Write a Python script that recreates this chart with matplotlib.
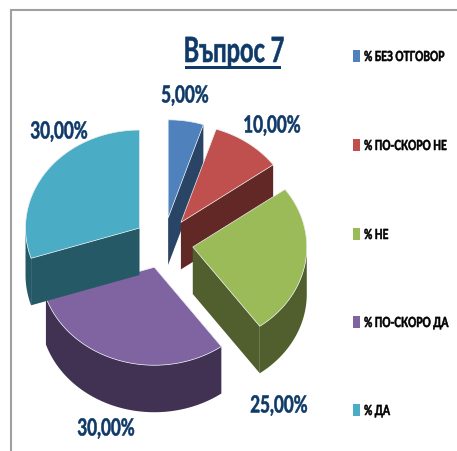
import numpy as np
import matplotlib
matplotlib.use('Agg')
import matplotlib.pyplot as plt
import matplotlib.patheffects as pe
from matplotlib.patches import Polygon, Rectangle
from matplotlib.transforms import Affine2D

categories = ['% БЕЗ ОТГОВОР', '% ПО-СКОРО НЕ', '% НЕ', '% ПО-СКОРО ДА', '% ДА']
values = [5, 10, 25, 30, 30]

top_colors = ['#4F81BD', '#C0504D', '#9BBB59', '#8064A2', '#4BACC6']
side_colors = ['#2A4465', '#622826', '#505F2D', '#413253', '#265966']
text_color = '#0F3A68'

# pie geometry, in pixels of the picture
cx, cy = 163.5, 244
rx, ry = 114, 98
depth = 47
explode = 0.26

plt.rcParams['font.family'] = ['Lato', 'Noto Sans', 'DejaVu Sans']


class Narrow(pe.AbstractPathEffect):
    # the reference text is squeezed sideways, no condensed font is installed
    def __init__(self, x0, sx, weight=0.4):
        super().__init__()
        self.x0 = x0
        self.sx = sx
        self.weight = weight

    def draw_path(self, renderer, gc, tpath, affine, rgbFace=None):
        squeeze = Affine2D().translate(-self.x0, 0).scale(self.sx, 1).translate(self.x0, 0)
        gc0 = renderer.new_gc()
        gc0.copy_properties(gc)
        gc0.set_foreground(rgbFace)
        gc0.set_linewidth(self.weight)
        renderer.draw_path(gc0, tpath, affine + squeeze, rgbFace)
        gc0.restore()


fig = plt.figure(figsize=(4.57, 4.52), dpi=100)
ax = fig.add_axes([0, 0, 1, 1])
ax.set_xlim(0, 457)
ax.set_ylim(452, 0)
ax.axis('off')

# grey frame, only top and left are in the crop
ax.plot([457, 10.5, 10.5], [11, 11, 452], color='#A0A0A0', lw=1.5, solid_joinstyle='miter')


def point(ax0, ay0, angle):
    return ax0 + rx * np.sin(angle), ay0 - ry * np.cos(angle)


def draw_slice(i, start, end):
    mid = (start + end) / 2
    ax0 = cx + explode * rx * np.sin(mid)
    ay0 = cy - explode * ry * np.cos(mid)
    xe, ye = point(ax0, ay0, end)
    xs, ys = point(ax0, ay0, start)

    # radial walls
    if np.sin(end) > 0:
        wall = [(ax0, ay0), (xe, ye), (xe, ye + depth), (ax0, ay0 + depth)]
        ax.add_patch(Polygon(wall, fc=side_colors[i], ec='none', zorder=i * 3 + 1))
    if np.sin(start) < 0:
        wall = [(ax0, ay0), (xs, ys), (xs, ys + depth), (ax0, ay0 + depth)]
        ax.add_patch(Polygon(wall, fc=side_colors[i], ec='none', zorder=i * 3 + 1))

    # outer rim, the part that faces the viewer
    a0 = max(start, np.pi / 2)
    a1 = min(end, 3 * np.pi / 2)
    if a1 > a0:
        t = np.linspace(a0, a1, 80)
        px, py = point(ax0, ay0, t)
        rim = list(zip(px, py)) + list(zip(px[::-1], py[::-1] + depth))
        ax.add_patch(Polygon(rim, fc=side_colors[i], ec='none', zorder=i * 3 + 1))

    # top face
    t = np.linspace(start, end, 80)
    px, py = point(ax0, ay0, t)
    top = [(ax0, ay0)] + list(zip(px, py))
    ax.add_patch(Polygon(top, fc=top_colors[i], ec='#E8EEF0', lw=0.5, zorder=i * 3 + 2))


fractions = np.array(values) / sum(values)
edges = np.concatenate([[0], np.cumsum(fractions)]) * 2 * np.pi
for i in range(len(values)):
    draw_slice(i, edges[i], edges[i + 1])

# data labels
label_x = [185, 272, 279, 106, 59]
label_y = [96, 126, 406, 429, 132]
for i, v in enumerate(values):
    txt = f'{v:.2f}'.replace('.', ',') + '%'
    ax.text(label_x[i], label_y[i], txt, color=text_color, fontsize=17, fontweight='bold',
            ha='center', va='center', zorder=30,
            path_effects=[Narrow(label_x[i], 0.72)])

# title
ax.text(234, 53, 'Въпрос 7', color=text_color, fontsize=25, fontweight='bold', ha='center', va='center',
        zorder=30, path_effects=[Narrow(234, 0.68)])
ax.add_patch(Rectangle((185, 67), 96, 3, fc=text_color, ec='none', zorder=30))

# legend, right anchored so the unsqueezed text box stays inside the figure
legend_y = [57, 146, 235, 323, 411]
legend_sx = 0.73
renderer = fig.canvas.get_renderer()
for i, name in enumerate(categories):
    ax.add_patch(Rectangle((353, legend_y[i] - 6), 7, 12, fc=top_colors[i], ec='none'))
    t = ax.text(364, legend_y[i] + 1, name, color='black', fontsize=10, fontweight='bold', ha='right', va='center')
    right = 364 + t.get_window_extent(renderer).width * legend_sx
    t.set_x(right)
    t.set_path_effects([Narrow(right, legend_sx)])

fig.savefig('out.png', dpi=100, facecolor='white')
